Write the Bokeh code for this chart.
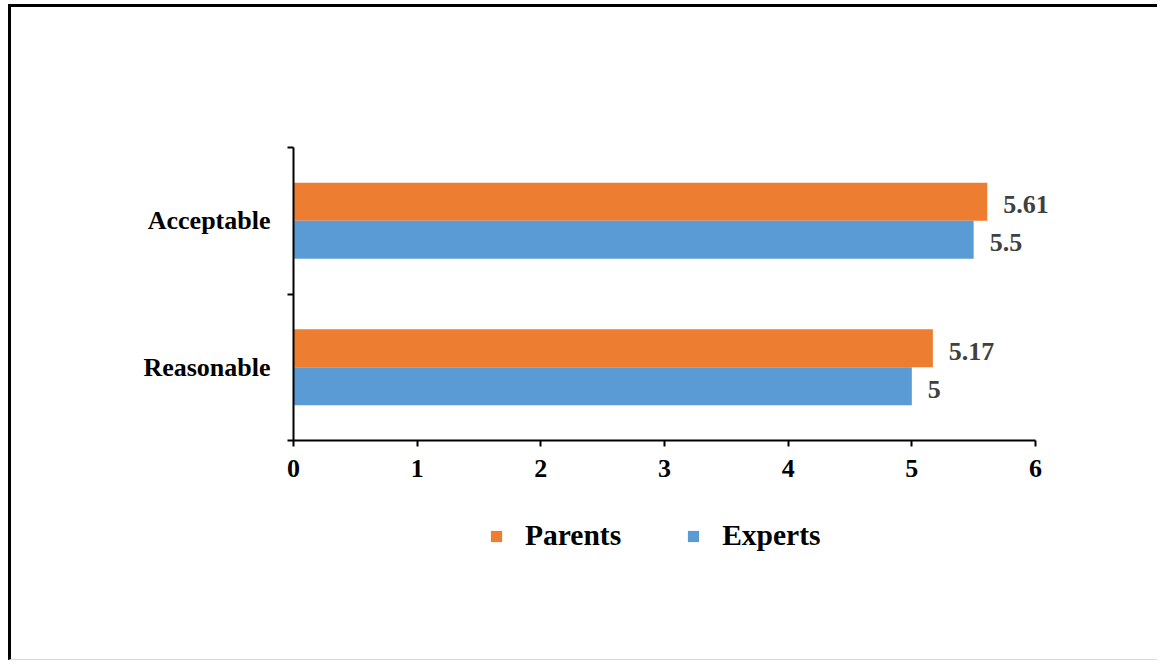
from bokeh.plotting import figure
from bokeh.models import Range1d, FixedTicker, ColumnDataSource, Legend, LegendItem
from bokeh.core.properties import value
from bokeh.embed import file_html
from bokeh.resources import INLINE

categories = ["Reasonable", "Acceptable"]
parents = [5.17, 5.61]
experts = [5.0, 5.5]
x_ticks = [0, 1, 2, 3, 4, 5, 6]
series_names = ["Parents", "Experts"]
colors = ["#ED7D31", "#5B9BD5"]

FONT = "Liberation Serif"

# page layout (pixels)
OFF_X, OFF_Y = 11, 7                 # margin + border of the framed box
W, H = 1160 - OFF_X, 664 - OFF_Y - 1
X0_PAGE, X6_PAGE = 293, 1035         # x = 0 and x = 6 on the page
YTOP_PAGE, YBOT_PAGE = 147, 440      # top and bottom of the category axis
n = len(categories)
ppx = (X6_PAGE - X0_PAGE) / x_ticks[-1]
ppy = (YBOT_PAGE - YTOP_PAGE) / n
x_start = -(X0_PAGE - OFF_X) / ppx
x_end = x_start + W / ppx
y_start = -(H - (YBOT_PAGE - OFF_Y)) / ppy
y_end = n + (YTOP_PAGE - OFF_Y) / ppy

ypos = [i + 0.5 for i in range(n)]
bar_h = 0.26

src = ColumnDataSource(dict(
    y=ypos, parents=parents, experts=experts,
    plabel=[f"{v:g}" for v in parents], elabel=[f"{v:g}" for v in experts],
    y_p=[y + bar_h / 2 for y in ypos], y_e=[y - bar_h / 2 for y in ypos],
))

p = figure(width=W, height=H, output_backend="svg", toolbar_location=None,
           x_range=Range1d(x_start, x_end), y_range=Range1d(y_start, y_end),
           min_border_left=0, min_border_right=0, min_border_top=0,
           min_border_bottom=0)
p.outline_line_color = None
p.xgrid.visible = False
p.ygrid.visible = False
p.background_fill_color = "white"
p.border_fill_color = "white"
p.styles = {"margin-left": "8px", "margin-top": "4px",
            "border-left": "3px solid black", "border-top": "3px solid black",
            "border-bottom": "1px solid #d9d9d9"}

r_p = p.hbar(y="y_p", right="parents", left=0, height=bar_h, source=src,
             fill_color=colors[0], line_color=None)
r_e = p.hbar(y="y_e", right="experts", left=0, height=bar_h, source=src,
             fill_color=colors[1], line_color=None)

for ycol, xcol, lab in (("y_p", "parents", "plabel"), ("y_e", "experts", "elabel")):
    p.text(x=xcol, y=ycol, text=lab, source=src, x_offset=16, y_offset=3,
           text_baseline="middle", text_align="left",
           text_font=value(FONT), text_font_style="bold", text_font_size="26px",
           text_color="#404040")

xa = p.xaxis[0]
xa.fixed_location = 0
xa.ticker = FixedTicker(ticks=x_ticks)
xa.bounds = (x_ticks[0], x_ticks[-1])
xa.axis_line_width = 2
xa.axis_line_color = "black"
xa.major_tick_line_width = 2
xa.major_tick_out = 6
xa.major_tick_in = 0
xa.minor_tick_line_color = None
xa.major_label_standoff = 13
xa.major_label_text_font = FONT
xa.major_label_text_font_style = "bold"
xa.major_label_text_font_size = "26px"
xa.major_label_text_color = "black"

ya = p.yaxis[0]
ya.fixed_location = 0
ya.ticker = FixedTicker(ticks=ypos, minor_ticks=list(range(n + 1)))
ya.bounds = (0, n)
ya.major_label_overrides = {y: c for y, c in zip(ypos, categories)}
ya.axis_line_width = 2
ya.axis_line_color = "black"
ya.major_tick_out = 0
ya.major_tick_in = 0
ya.major_tick_line_color = None
ya.minor_tick_out = 6
ya.minor_tick_in = 0
ya.minor_tick_line_width = 2
ya.minor_tick_line_color = "black"
ya.major_label_standoff = 17
ya.major_label_text_font = FONT
ya.major_label_text_font_style = "bold"
ya.major_label_text_font_size = "26px"
ya.major_label_text_color = "black"

legend_left_page, legend_bottom_page = 489, 552
legend = Legend(items=[LegendItem(label=series_names[0], renderers=[r_p]),
                       LegendItem(label=series_names[1], renderers=[r_e])],
                location=(legend_left_page - OFF_X, (H + OFF_Y) - legend_bottom_page),
                orientation="horizontal",
                glyph_width=14, glyph_height=14, label_standoff=22, spacing=65,
                padding=0, margin=0, border_line_color=None,
                background_fill_alpha=0,
                label_text_font=FONT, label_text_font_style="bold",
                label_text_font_size="29.5px", label_text_color="black")
p.add_layout(legend, "center")

open("out.html", "w").write(file_html(p, INLINE))
